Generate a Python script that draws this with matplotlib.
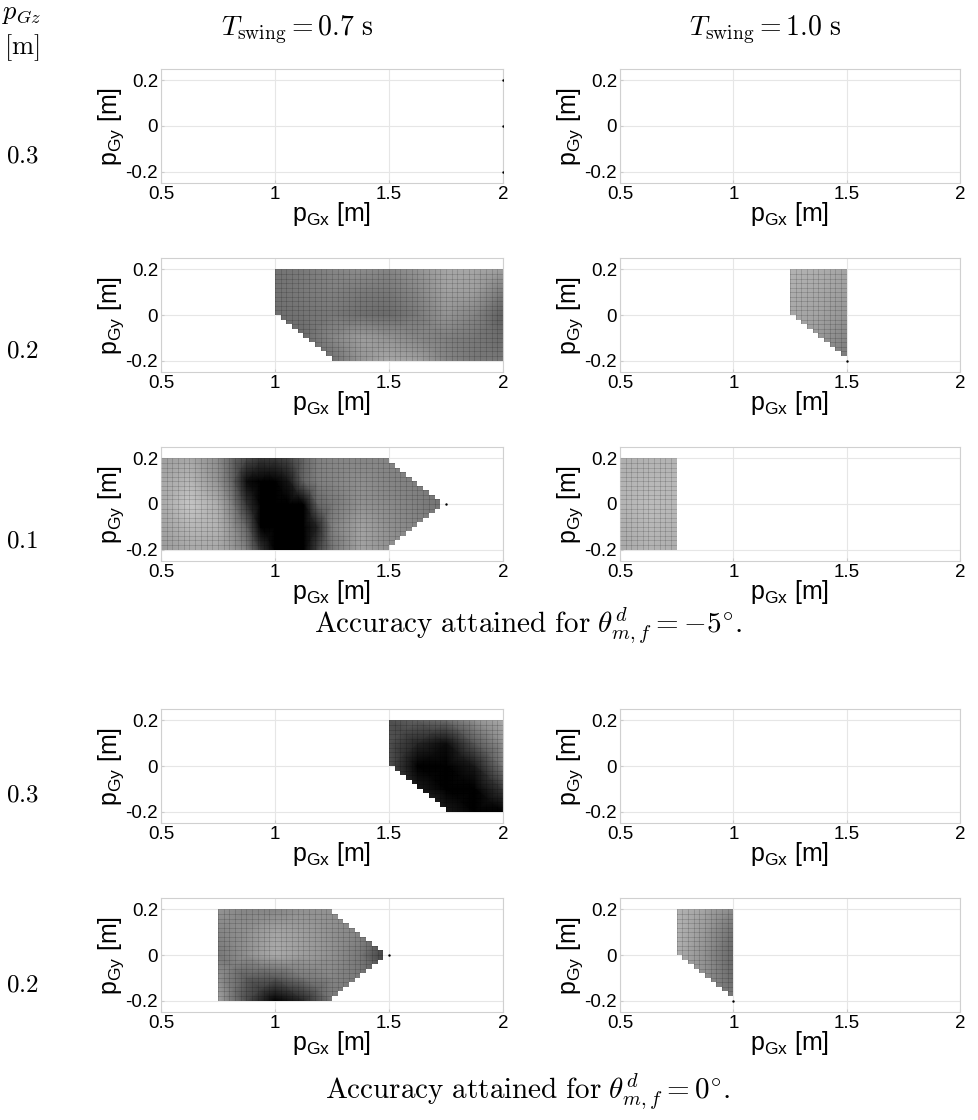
import numpy as np
import matplotlib
matplotlib.use("Agg")
import matplotlib.pyplot as plt
from matplotlib.path import Path

plt.rcParams['font.family'] = ['Liberation Sans', 'DejaVu Sans']
plt.rcParams['mathtext.fontset'] = 'custom'
plt.rcParams['mathtext.rm'] = 'Liberation Sans'
plt.rcParams['mathtext.it'] = 'Liberation Sans:italic'

# grey level of the accuracy map (0 = black, 1 = white), coarse nodes, rows from y=0.2 down to y=-0.2
y_coarse = [-0.2, -0.1, 0.0, 0.1, 0.2]

# theta = -5 deg, T=0.7, pGz=0.2
a_x = [1.0, 1.125, 1.25, 1.375, 1.5, 1.625, 1.75, 1.875, 2.0]
a_z = [[0.45, 0.48, 0.52, 0.55, 0.52, 0.58, 0.65, 0.65, 0.62],
       [0.45, 0.48, 0.50, 0.48, 0.47, 0.53, 0.63, 0.62, 0.48],
       [0.43, 0.45, 0.47, 0.44, 0.42, 0.48, 0.58, 0.52, 0.37],
       [0.42, 0.42, 0.53, 0.62, 0.58, 0.53, 0.50, 0.47, 0.42],
       [0.42, 0.42, 0.44, 0.58, 0.66, 0.63, 0.52, 0.47, 0.47]]
a_region = [(1.0, 0.2), (1.0, 0.0), (1.25, -0.2), (2.0, -0.2), (2.0, 0.2)]

# theta = -5 deg, T=1.0, pGz=0.2
b_x = [1.25, 1.375, 1.5]
b_z = [[0.70, 0.68, 0.64],
       [0.68, 0.66, 0.62],
       [0.66, 0.64, 0.58],
       [0.64, 0.60, 0.52],
       [0.62, 0.57, 0.47]]
b_region = [(1.25, 0.2), (1.25, 0.0), (1.5, -0.2), (1.5, 0.2)]

# theta = -5 deg, T=0.7, pGz=0.1
c_x = [0.5, 0.625, 0.75, 0.8125, 0.875, 0.9375, 1.0, 1.0625, 1.125, 1.1875, 1.25, 1.375, 1.5, 1.625, 1.75]
c_z = [[0.62, 0.66, 0.55, 0.40, 0.30, 0.22, 0.22, 0.28, 0.40, 0.50, 0.52, 0.52, 0.52, 0.50, 0.47],
       [0.65, 0.72, 0.58, 0.40, 0.05, -0.3, -0.3, 0.10, 0.40, 0.50, 0.52, 0.56, 0.52, 0.50, 0.47],
       [0.66, 0.78, 0.68, 0.50, 0.20, -0.3, -0.4, -0.3, -0.15, 0.40, 0.47, 0.57, 0.54, 0.50, 0.44],
       [0.63, 0.72, 0.70, 0.58, 0.40, -0.1, -0.4, -0.4, -0.2, 0.15, 0.50, 0.64, 0.57, 0.52, 0.47],
       [0.60, 0.66, 0.66, 0.60, 0.50, 0.20, -0.3, -0.4, -0.2, 0.25, 0.45, 0.64, 0.57, 0.52, 0.47]]
c_region = [(0.5, -0.2), (0.5, 0.2), (1.5, 0.2), (1.75, 0.0), (1.5, -0.2)]

# theta = -5 deg, T=1.0, pGz=0.1
d_x = [0.5, 0.625, 0.75]
d_z = [[0.68, 0.70, 0.70],
       [0.70, 0.72, 0.72],
       [0.70, 0.74, 0.72],
       [0.68, 0.72, 0.70],
       [0.66, 0.70, 0.68]]
d_region = [(0.5, -0.2), (0.5, 0.2), (0.75, 0.2), (0.75, -0.2)]

# theta = 0 deg, T=0.7, pGz=0.3
e_x = [1.5, 1.625, 1.75, 1.875, 2.0]
e_z = [[0.32, 0.38, 0.42, 0.57, 0.67],
       [0.32, 0.15, 0.05, 0.35, 0.57],
       [0.32, -0.1, -0.2, 0.10, 0.47],
       [0.32, 0.10, -0.2, -0.1, 0.22],
       [0.32, 0.32, 0.10, -0.2, -0.1]]
e_region = [(1.5, 0.2), (1.5, 0.0), (1.75, -0.2), (2.0, -0.2), (2.0, 0.2)]

# theta = 0 deg, T=0.7, pGz=0.2
f_x = [0.75, 0.875, 1.0, 1.125, 1.25, 1.375, 1.5]
f_z = [[0.58, 0.52, 0.52, 0.57, 0.57, 0.52, 0.47],
       [0.52, 0.57, 0.65, 0.62, 0.57, 0.52, 0.42],
       [0.47, 0.57, 0.67, 0.62, 0.57, 0.47, 0.20],
       [0.57, 0.37, 0.35, 0.47, 0.52, 0.47, 0.37],
       [0.64, 0.30, -0.05, 0.15, 0.47, 0.47, 0.42]]
f_region = [(0.75, -0.2), (0.75, 0.2), (1.25, 0.2), (1.5, 0.0), (1.25, -0.2)]

# theta = 0 deg, T=1.0, pGz=0.2
g_x = [0.75, 0.875, 1.0]
g_z = [[0.70, 0.64, 0.54],
       [0.70, 0.60, 0.44],
       [0.68, 0.57, 0.40],
       [0.66, 0.57, 0.42],
       [0.64, 0.57, 0.47]]
g_region = [(0.75, 0.2), (0.75, 0.0), (1.0, -0.2), (1.0, 0.2)]

# isolated feasible points
dots_r1l = [(2.0, 0.2), (2.0, 0.0), (2.0, -0.2)]
dots_b = [(1.5, -0.2)]
dots_c = [(1.75, 0.0)]
dots_f = [(1.5, 0.0)]
dots_g = [(1.0, -0.2)]

row_labels = ['0.3', '0.2', '0.1', '0.3', '0.2']
x_ticks = [0.5, 1, 1.5, 2]
y_ticks = [-0.2, 0, 0.2]

# panel contents: (row, col) -> (x, z, region, dots)
panels = {
    (0, 0): (None, None, None, dots_r1l),
    (0, 1): (None, None, None, []),
    (1, 0): (a_x, a_z, a_region, []),
    (1, 1): (b_x, b_z, b_region, dots_b),
    (2, 0): (c_x, c_z, c_region, dots_c),
    (2, 1): (d_x, d_z, d_region, []),
    (3, 0): (e_x, e_z, e_region, []),
    (3, 1): (None, None, None, []),
    (4, 0): (f_x, f_z, f_region, dots_f),
    (4, 1): (g_x, g_z, g_region, dots_g),
}

W, H = 979, 1120
fig = plt.figure(figsize=(W / 100, H / 100), dpi=100)

row_tops = [69, 258, 447, 709, 898]
col_lefts = [161, 620]
col_widths = [342, 340]
ax_h = 114

# fine mesh of the surface
xf = 0.5 + 0.025 * np.arange(61)
yf = -0.2 + 0.02 * np.arange(21)
XF, YF = np.meshgrid(xf, yf)


def cell_path(region):
    poly = Path(region)
    pts = np.column_stack([XF.ravel(), YF.ravel()])
    inside = poly.contains_points(pts, radius=1e-6) | poly.contains_points(pts, radius=-1e-6)
    inside = inside.reshape(XF.shape)
    ok = inside[:-1, :-1] & inside[1:, :-1] & inside[:-1, 1:] & inside[1:, 1:]
    rects = []
    for j, i in zip(*np.nonzero(ok)):
        x0, x1 = xf[i], xf[i + 1]
        y0, y1 = yf[j], yf[j + 1]
        rects.append(Path([(x0, y0), (x1, y0), (x1, y1), (x0, y1), (x0, y0)], closed=True))
    return Path.make_compound_path(*rects)


for (r, c), (px, pz, region, dots) in panels.items():
    left = col_lefts[c]
    ax = fig.add_axes([left / W, 1 - (row_tops[r] + ax_h) / H, col_widths[c] / W, ax_h / H])
    ax.set_xlim(0.5, 2)
    ax.set_ylim(-0.25, 0.25)
    ax.grid(True, color='#e6e6e6', linewidth=0.8)
    ax.set_axisbelow(True)
    if px is not None:
        X, Y = np.meshgrid(px, y_coarse)
        Z = np.array(pz)[::-1]
        mesh = ax.pcolormesh(X, Y, Z, shading='gouraud', cmap='gray', vmin=0, vmax=1, zorder=2)
        clip = cell_path(region)
        mesh.set_clip_path(clip, ax.transData)
        edges = ax.pcolormesh(XF, YF, np.zeros((20, 60)), facecolor='none',
                              edgecolors=(0, 0, 0, 0.07), linewidth=0.4, zorder=3)
        edges.set_clip_path(clip, ax.transData)
    if dots:
        ax.scatter([d[0] for d in dots], [d[1] for d in dots], s=3, color='black', zorder=4, linewidths=0)
    ax.set_xticks(x_ticks)
    ax.set_xticklabels(['0.5', '1', '1.5', '2'])
    ax.set_yticks(y_ticks)
    ax.set_yticklabels(['-0.2', '0', '0.2'])
    ax.tick_params(direction='in', length=2, color='#cccccc', labelsize=13.5, pad=2)
    for s in ax.spines.values():
        s.set_color('#d0d0d0')
    ax.set_xlabel(r'p$_{\rm Gx}$ [m]', fontsize=18, labelpad=-2)
    ax.set_ylabel(r'p$_{\rm Gy}$ [m]', fontsize=18, labelpad=0)

# column headers and row labels
fig.text(297 / W, 1 - 30 / H, r'$T_{\rm swing} = 0.7\ \rm s$', ha='center', va='center',
         fontsize=20, math_fontfamily='cm')
fig.text(765 / W, 1 - 30 / H, r'$T_{\rm swing} = 1.0\ \rm s$', ha='center', va='center',
         fontsize=20, math_fontfamily='cm')
fig.text(22 / W, 1 - 14 / H, r'$p_{Gz}$', ha='center', va='center', fontsize=19, math_fontfamily='cm')
fig.text(22 / W, 1 - 48 / H, r'$[\mathrm{m}]$', ha='center', va='center', fontsize=19, math_fontfamily='cm')
label_y = [155, 350, 540, 795, 985]
for lab, yy in zip(row_labels, label_y):
    fig.text(22 / W, 1 - yy / H, '$' + lab + '$', ha='center', va='center', fontsize=18, math_fontfamily='cm')

fig.text(528 / W, 1 - 626 / H, r'$\mathrm{Accuracy\ attained\ for\ }\theta^{d}_{m,f} = -5^{\circ}.$',
         ha='center', va='center', fontsize=21, math_fontfamily='cm')
fig.text(528 / W, 1 - 1092 / H, r'$\mathrm{Accuracy\ attained\ for\ }\theta^{d}_{m,f} = 0^{\circ}.$',
         ha='center', va='center', fontsize=21, math_fontfamily='cm')

fig.savefig('out.png', dpi=100, facecolor='white')
